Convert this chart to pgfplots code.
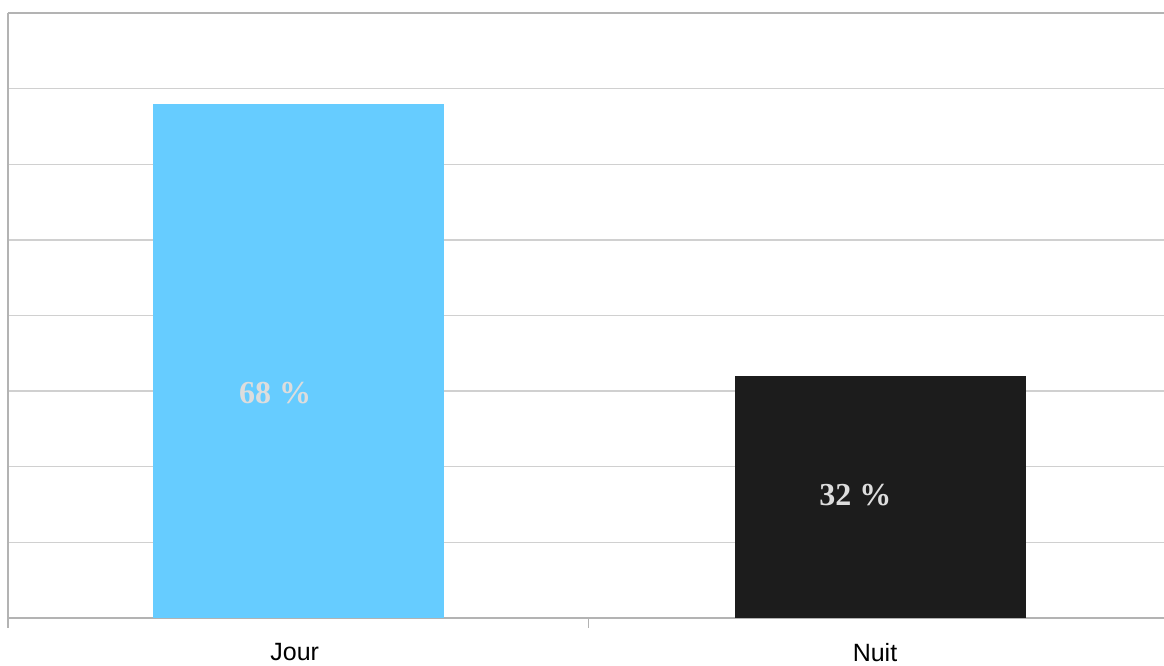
\documentclass[border=0pt]{standalone}
\usepackage{pgfplots}
\pgfplotsset{compat=1.18}
\usepackage{fontspec}
\setmainfont{Liberation Sans}
\newfontfamily\serifbold{Liberation Serif}
\definecolor{barblue}{HTML}{66CCFF}
\definecolor{bardark}{HTML}{1C1C1C}
\definecolor{gridc}{HTML}{D0D0D0}
\definecolor{axisc}{HTML}{B3B3B3}
\definecolor{lbl}{HTML}{DDDDDD}
\begin{document}
\begin{tikzpicture}
\begin{axis}[
  scale only axis,
  width=578pt, height=302.5pt,
  xmin=-0.5, xmax=1.5,
  ymin=0, ymax=80,
  ytick={0,10,...,80},
  yticklabels={},
  major y tick style={draw=none},
  ymajorgrids,
  grid style={gridc, line width=0.7pt},
  xtick={-0.004,1.0},
  xticklabels={Jour,Nuit},
  minor xtick={-0.5,0.504},
  major x tick style={draw=none},
  minor x tick style={axisc, line width=0.7pt},
  minor tick length=5pt,
  tick align=outside,
  xtick pos=bottom,
  ytick pos=left,
  axis x line*=bottom,
  axis y line*=left,
  axis line style={axisc, line width=0.7pt, -},
  xticklabel style={font=\fontsize{12.5pt}{14pt}\selectfont, yshift=-5pt},
  ybar, bar width=0.503, bar shift=0pt,
  clip=false,
]
\addplot[fill=barblue, draw=none, bar shift=0pt] coordinates {(0.002,68)};
\addplot[fill=bardark, draw=none, bar shift=0pt] coordinates {(1.01,32)};
\draw[axisc, line width=0.7pt] (rel axis cs:0,1) -- (rel axis cs:1,1);
\node[text=lbl, font=\serifbold\bfseries\fontsize{16pt}{18pt}\selectfont] at (axis cs:-0.038,29.8) {68 \%};
\node[text=lbl, font=\serifbold\bfseries\fontsize{16pt}{18pt}\selectfont] at (axis cs:0.966,16.3) {32 \%};
\end{axis}
\pgfresetboundingbox
\path[use as bounding box] ([xshift=-4pt,yshift=-24pt]current axis.south west) rectangle ([yshift=6.5pt]current axis.north east);
\end{tikzpicture}
\end{document}
